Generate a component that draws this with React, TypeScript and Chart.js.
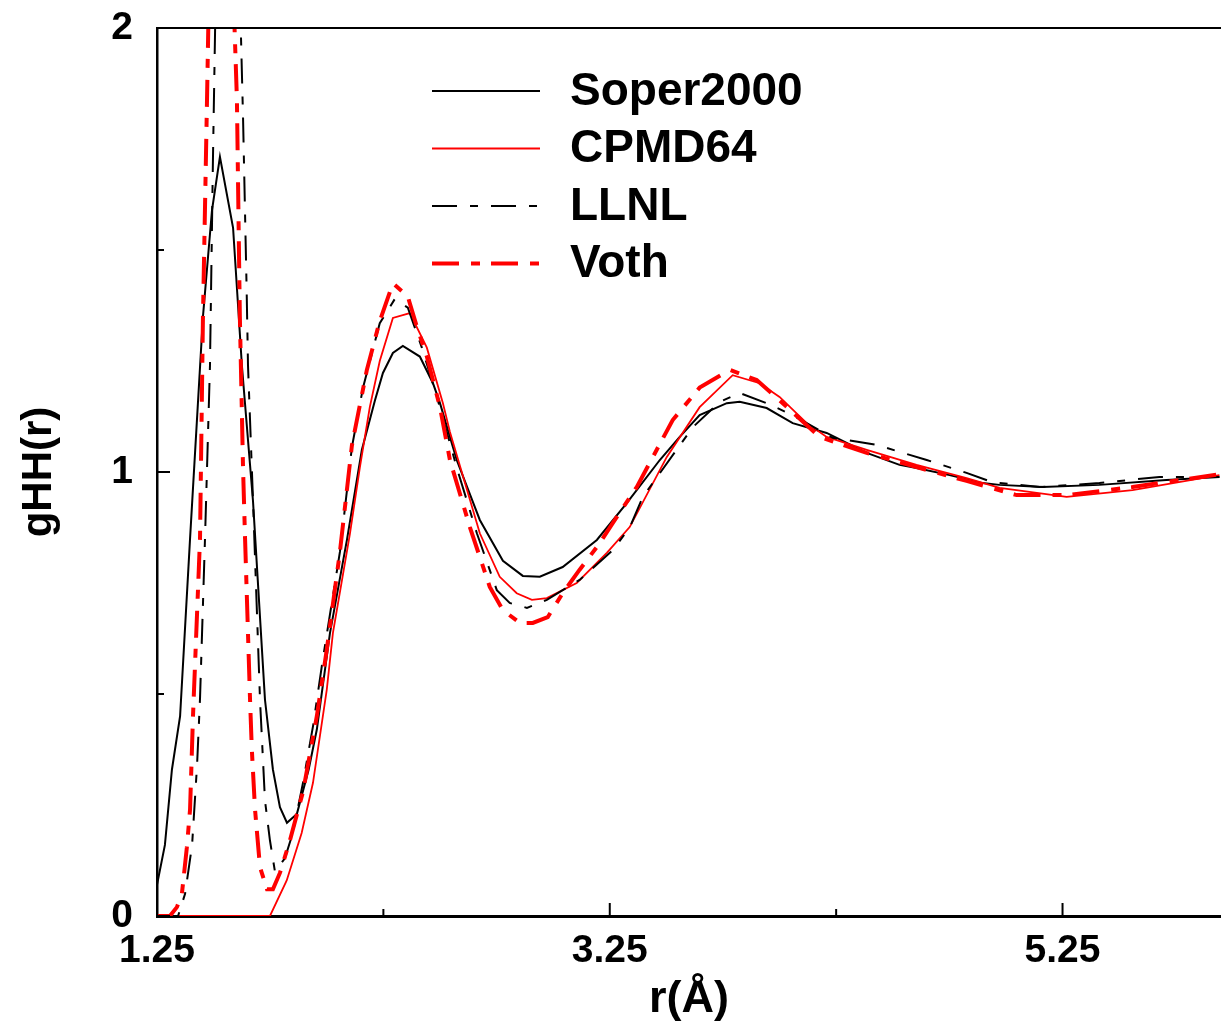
import { useEffect, useRef } from 'react'
import { Chart, registerables } from 'chart.js'

Chart.register(...registerables)

const FONT = '"Liberation Sans", Arial, Helvetica, sans-serif'

// axis ticks
const xTicks = [1.25, 2.25, 3.25, 4.25, 5.25]
const xTickLabels = ['1.25', '', '3.25', '', '5.25']
const yTicks = [0, 0.5, 1, 1.5, 2]
const yTickLabels = ['0', '', '1', '', '2']

const seriesNames = ['Soper2000', 'CPMD64', 'LLNL', 'Voth']

// r (Å) and gHH(r)
const soperR = [1.25, 1.285, 1.316, 1.352, 1.396, 1.453, 1.493, 1.528, 1.586, 1.625, 1.674, 1.727, 1.762, 1.793, 1.824, 1.868, 1.92, 1.956, 2.014, 2.089, 2.155, 2.212, 2.248, 2.292, 2.336, 2.411, 2.469, 2.5, 2.574, 2.676, 2.778, 2.866, 2.941, 3.042, 3.193, 3.325, 3.471, 3.559, 3.647, 3.767, 3.824, 3.943, 4.058, 4.208, 4.385, 4.53, 4.605, 4.751, 4.897, 4.972, 5.162, 5.413, 5.709, 5.943]
const soperG = [0.07, 0.16, 0.33, 0.45, 0.85, 1.35, 1.59, 1.71, 1.55, 1.24, 0.935, 0.487, 0.33, 0.245, 0.21, 0.23, 0.33, 0.42, 0.637, 0.847, 1.05, 1.16, 1.223, 1.268, 1.284, 1.26, 1.2, 1.155, 1.027, 0.892, 0.8, 0.766, 0.764, 0.786, 0.847, 0.93, 1.027, 1.079, 1.128, 1.155, 1.158, 1.144, 1.11, 1.088, 1.043, 1.016, 1.009, 0.993, 0.975, 0.971, 0.966, 0.971, 0.982, 0.989]

const cpmdR = [1.25, 1.749, 1.823, 1.889, 1.939, 2.0, 2.027, 2.102, 2.146, 2.19, 2.234, 2.292, 2.367, 2.442, 2.513, 2.544, 2.676, 2.764, 2.839, 2.906, 2.972, 3.104, 3.237, 3.338, 3.502, 3.647, 3.793, 3.912, 4.0, 4.12, 4.208, 4.385, 4.605, 4.826, 4.972, 5.268, 5.559, 5.943]
const cpmdG = [0, 0, 0.08, 0.187, 0.3, 0.51, 0.637, 0.86, 1.01, 1.146, 1.25, 1.347, 1.358, 1.28, 1.155, 1.09, 0.862, 0.764, 0.727, 0.712, 0.716, 0.75, 0.818, 0.876, 1.034, 1.146, 1.218, 1.2, 1.169, 1.11, 1.079, 1.05, 1.016, 0.986, 0.964, 0.944, 0.959, 0.993]

const llnlR = [1.25, 1.343, 1.374, 1.405, 1.427, 1.44, 1.462, 1.484, 1.497, 1.51, 1.56, 1.615, 1.63, 1.646, 1.652, 1.674, 1.705, 1.727, 1.749, 1.771, 1.815, 1.85, 1.895, 1.94, 1.983, 2.058, 2.111, 2.16, 2.234, 2.301, 2.358, 2.42, 2.486, 2.574, 2.663, 2.751, 2.808, 2.884, 2.972, 3.117, 3.263, 3.338, 3.396, 3.617, 3.736, 3.824, 3.943, 4.058, 4.235, 4.429, 4.65, 4.826, 4.941, 5.149, 5.413, 5.678, 5.943]
const llnlG = [0, 0, 0.05, 0.16, 0.34, 0.49, 0.85, 1.24, 1.7, 2.1, 2.6, 2.1, 1.8, 1.41, 1.24, 0.937, 0.487, 0.26, 0.17, 0.1, 0.13, 0.187, 0.3, 0.43, 0.58, 0.82, 1.056, 1.19, 1.335, 1.39, 1.37, 1.28, 1.17, 1.01, 0.862, 0.734, 0.705, 0.694, 0.712, 0.757, 0.824, 0.875, 0.944, 1.101, 1.158, 1.178, 1.155, 1.128, 1.077, 1.061, 1.027, 0.998, 0.977, 0.966, 0.975, 0.989, 0.989]

const vothR = [1.25, 1.307, 1.338, 1.36, 1.382, 1.396, 1.409, 1.44, 1.453, 1.471, 1.48, 1.53, 1.586, 1.603, 1.616, 1.63, 1.639, 1.661, 1.669, 1.683, 1.705, 1.736, 1.762, 1.793, 1.837, 1.895, 1.956, 2.0, 2.058, 2.111, 2.177, 2.234, 2.292, 2.358, 2.398, 2.442, 2.5, 2.544, 2.632, 2.72, 2.778, 2.853, 2.91, 2.976, 3.042, 3.117, 3.206, 3.263, 3.369, 3.528, 3.647, 3.78, 3.899, 4.014, 4.177, 4.385, 4.605, 4.826, 5.047, 5.268, 5.559, 5.943]
const vothG = [0, 0, 0.02, 0.05, 0.155, 0.24, 0.45, 0.85, 1.35, 1.84, 2.1, 2.8, 2.1, 1.84, 1.35, 1.01, 0.85, 0.487, 0.374, 0.24, 0.11, 0.06, 0.06, 0.097, 0.17, 0.28, 0.45, 0.6, 0.82, 1.06, 1.23, 1.34, 1.425, 1.395, 1.327, 1.26, 1.146, 1.027, 0.876, 0.741, 0.689, 0.66, 0.66, 0.673, 0.727, 0.78, 0.84, 0.885, 0.966, 1.117, 1.19, 1.23, 1.207, 1.155, 1.079, 1.043, 1.011, 0.98, 0.948, 0.948, 0.966, 0.995]

const lineStyles = [
  { color: '#000000', width: 2, dash: [] as number[] },
  { color: '#ff0000', width: 1.8, dash: [] as number[] },
  { color: '#000000', width: 2, dash: [25, 13, 8, 13] },
  { color: '#ff0000', width: 4, dash: [27, 12, 9, 11] },
]

const zip = (r: number[], g: number[]) => r.map((x, i) => ({ x, y: g[i] }))

// inward tick marks, top frame line and the in-plot legend
const framePlugin = {
  id: 'frame',
  afterDraw(chart: any) {
    const { ctx, chartArea: a, scales } = chart
    ctx.save()
    ctx.strokeStyle = '#000'
    ctx.lineWidth = 2
    ctx.setLineDash([])
    ctx.beginPath()
    ctx.moveTo(a.left, a.top)
    ctx.lineTo(a.right, a.top)
    ctx.stroke()

    xTicks.forEach((v, i) => {
      const px = scales.x.getPixelForValue(v)
      const len = xTickLabels[i] ? 13 : 7
      ctx.beginPath()
      ctx.moveTo(px, a.bottom)
      ctx.lineTo(px, a.bottom - len)
      ctx.stroke()
    })
    yTicks.forEach((v, i) => {
      const py = scales.y.getPixelForValue(v)
      const len = yTickLabels[i] ? 13 : 7
      ctx.beginPath()
      ctx.moveTo(a.left, py)
      ctx.lineTo(a.left + len, py)
      ctx.stroke()
    })

    // legend
    const lx = a.left + 275
    const ly = a.top + 63
    ctx.font = `bold 46px ${FONT}`
    ctx.fillStyle = '#000'
    ctx.textBaseline = 'middle'
    ctx.textAlign = 'left'
    seriesNames.forEach((name, i) => {
      const s = lineStyles[i]
      const y = ly + i * 57.5
      ctx.strokeStyle = s.color
      ctx.lineWidth = s.width
      ctx.setLineDash(s.dash)
      ctx.beginPath()
      ctx.moveTo(lx, y)
      ctx.lineTo(lx + 108, y)
      ctx.stroke()
      ctx.fillText(name, lx + 138, y + 1)
    })
    ctx.restore()
  },
}

export default function App() {
  const canvasRef = useRef<HTMLCanvasElement>(null)
  const chartRef = useRef<Chart | null>(null)

  useEffect(() => {
    if (!canvasRef.current) return
    if (chartRef.current) chartRef.current.destroy()

    const series = [zip(soperR, soperG), zip(cpmdR, cpmdG), zip(llnlR, llnlG), zip(vothR, vothG)]

    chartRef.current = new Chart(canvasRef.current, {
      type: 'line',
      data: {
        datasets: series.map((pts, i) => ({
          label: seriesNames[i],
          data: pts,
          borderColor: lineStyles[i].color,
          borderWidth: lineStyles[i].width,
          borderDash: lineStyles[i].dash,
          pointRadius: 0,
          tension: 0,
          fill: false,
          order: seriesNames.length - i,
        })),
      },
      options: {
        responsive: true,
        maintainAspectRatio: false,
        animation: false,
        layout: { padding: { top: 28, right: 0, left: 0, bottom: 0 } },
        plugins: {
          legend: { display: false },
          tooltip: { enabled: false },
        },
        scales: {
          x: {
            type: 'linear',
            min: 1.25,
            max: 5.95,
            afterBuildTicks: (s: any) => { s.ticks = xTicks.map(value => ({ value })) },
            afterFit: (s: any) => { s.height = 111 },
            grid: { display: false, drawTicks: false, tickLength: 0 },
            border: { display: true, color: '#000', width: 3 },
            ticks: {
              color: '#000',
              font: { family: FONT, size: 39, weight: 'bold' },
              padding: 12,
              maxRotation: 0,
              autoSkip: false,
              callback: (_v: any, i: number) => xTickLabels[i],
            },
            title: {
              display: true,
              text: 'r(Å)',
              color: '#000',
              font: { family: FONT, size: 45, weight: 'bold' },
              padding: { top: 0, bottom: 0 },
            },
          },
          y: {
            type: 'linear',
            min: 0,
            max: 2,
            afterBuildTicks: (s: any) => { s.ticks = yTicks.map(value => ({ value })) },
            afterFit: (s: any) => { s.width = 157; s.paddingTop = 0; s.paddingBottom = 0 },
            grid: { display: false, drawTicks: false, tickLength: 0 },
            border: { display: true, color: '#000', width: 2.5 },
            ticks: {
              color: '#000',
              font: { family: FONT, size: 39, weight: 'bold' },
              padding: 24,
              autoSkip: false,
              callback: (_v: any, i: number) => yTickLabels[i],
            },
            title: {
              display: true,
              text: 'gHH(r)',
              color: '#000',
              font: { family: FONT, size: 42, weight: 'bold' },
              padding: { top: 14, bottom: 0 },
            },
          },
        },
      },
      plugins: [framePlugin],
    })

    return () => { chartRef.current?.destroy(); chartRef.current = null }
  }, [])

  return (
    <div style={{ position: 'absolute', left: 0, top: 0, width: 1221, height: 1027, background: '#fff' }}>
      <canvas ref={canvasRef} />
    </div>
  )
}
